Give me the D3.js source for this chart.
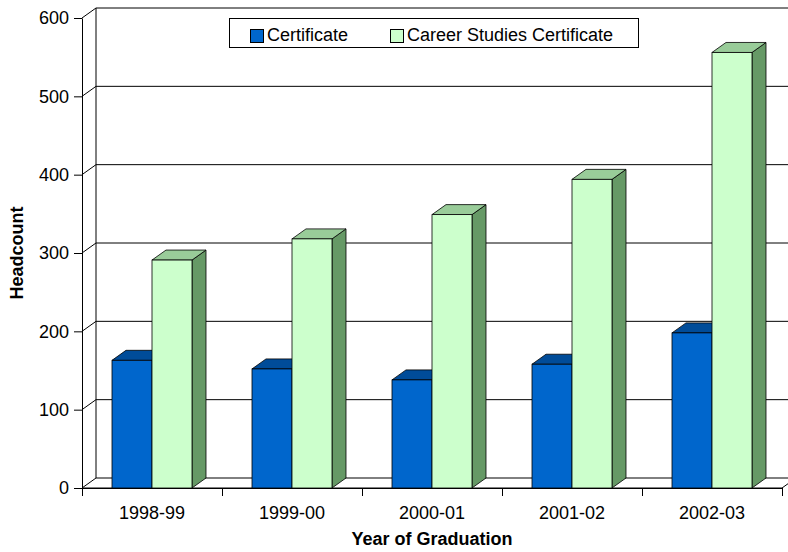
<!DOCTYPE html>
<html>
<head>
<meta charset="utf-8">
<script src="https://cdn.jsdelivr.net/npm/d3@7"></script>
<style>
    body { margin: 0; background: #fff; }
    svg text { font-family: "Liberation Sans", Arial, sans-serif; fill: #000; }
    .tick-label { font-size: 18px; }
    .axis-title { font-size: 18px; font-weight: bold; }
    .legend-text { font-size: 18px; }
</style>
</head>
<body>
<div id="chart"></div>
<script>
// data
let years = ['1998-99', '1999-00', '2000-01', '2001-02', '2002-03'];
let seriesNames = ['Certificate', 'Career Studies Certificate'];
let certificate = [163, 152, 138, 158, 198];
let careerStudies = [291, 318, 349, 394, 556];
let yTicks = [0, 100, 200, 300, 400, 500, 600];

class BarChart3D {

    constructor (width, height) {
        this.width = width;
        this.height = height;
        this.depthX = 14;
        this.depthY = 10;
        this.colors = {
            'Certificate': { front: '#0066cc', top: '#004c99', side: '#003366' },
            'Career Studies Certificate': { front: '#ccffcc', top: '#99cc99', side: '#669966' }
        };
    }

    draw() {
        let that = this;
        let dx = this.depthX, dy = this.depthY;

        let svg = d3.select('#chart')
                    .append('svg')
                    .attr('width', this.width)
                    .attr('height', this.height);

        let x = d3.scaleBand().domain(years).range([82, 782]);
        let xs = d3.scaleBand().domain(seriesNames).range([0, x.bandwidth()]).paddingOuter(0.75);
        let y = d3.scaleLinear().domain([0, 600]).range([488, 18]);

        // back wall gridlines
        svg.append('g')
            .selectAll('line')
            .data(yTicks.filter(d => d > 0))
            .join('line')
            .attr('x1', 82 + dx)
            .attr('x2', 782 + dx)
            .attr('y1', d => y(d) - dy)
            .attr('y2', d => y(d) - dy)
            .attr('stroke', '#000');

        // back wall left edge
        svg.append('line')
            .attr('x1', 82 + dx).attr('x2', 82 + dx)
            .attr('y1', y(600) - dy).attr('y2', y(0) - dy)
            .attr('stroke', '#000');

        // left wall diagonals
        svg.append('g')
            .selectAll('line')
            .data(yTicks.filter(d => d > 0))
            .join('line')
            .attr('x1', 82)
            .attr('x2', 82 + dx)
            .attr('y1', d => y(d))
            .attr('y2', d => y(d) - dy)
            .attr('stroke', '#000');

        // floor
        svg.append('path')
            .attr('d', `M82,${y(0)}L782,${y(0)}L${782 + dx},${y(0) - dy}L${82 + dx},${y(0) - dy}Z`)
            .attr('fill', '#fff')
            .attr('stroke', '#000');

        // bars
        let seriesData = [
            { name: seriesNames[0], values: certificate },
            { name: seriesNames[1], values: careerStudies }
        ];
        let bars = [];
        years.forEach(function(yr, i) {
            seriesData.forEach(function(s) {
                bars.push({ year: yr, name: s.name, value: s.values[i] });
            });
        });

        let barG = svg.append('g')
                    .selectAll('g')
                    .data(bars)
                    .join('g');

        barG.each(function(d) {
            let g = d3.select(this);
            let x0 = x(d.year) + xs(d.name);
            let x1 = x0 + xs.bandwidth();
            let yt = y(d.value);
            let yb = y(0);
            let c = that.colors[d.name];

            g.append('path')
                .attr('d', `M${x1},${yb}L${x1 + dx},${yb - dy}L${x1 + dx},${yt - dy}L${x1},${yt}Z`)
                .attr('fill', c.side)
                .attr('stroke', '#000')
                .attr('stroke-width', 0.8);
            g.append('path')
                .attr('d', `M${x0},${yt}L${x0 + dx},${yt - dy}L${x1 + dx},${yt - dy}L${x1},${yt}Z`)
                .attr('fill', c.top)
                .attr('stroke', '#000')
                .attr('stroke-width', 0.8);
            g.append('rect')
                .attr('x', x0)
                .attr('y', yt)
                .attr('width', x1 - x0)
                .attr('height', yb - yt)
                .attr('fill', c.front)
                .attr('stroke', '#000')
                .attr('stroke-width', 0.8);
        });

        // y axis
        let yAxis = svg.append('g')
                    .attr('transform', 'translate(82,0)')
                    .call(d3.axisLeft(y).tickValues(yTicks).tickSize(8).tickPadding(5).tickSizeOuter(0));
        yAxis.select('.domain').attr('stroke', '#000');
        yAxis.selectAll('text').classed('tick-label', true).attr('font-size', null).attr('font-family', null);

        // x axis
        let xTickPos = d3.range(years.length + 1).map(i => 82 + i * x.step());
        let xAxisScale = d3.scaleLinear().domain([0, years.length]).range([82, 782]);
        let xAxis = svg.append('g')
                    .attr('transform', `translate(0,${y(0)})`)
                    .call(d3.axisBottom(xAxisScale).ticks(years.length).tickSize(8).tickFormat(''));
        xAxis.select('.domain').attr('stroke', '#000');

        svg.append('g')
            .selectAll('text')
            .data(years)
            .join('text')
            .classed('tick-label', true)
            .attr('x', d => x(d) + x.bandwidth() / 2)
            .attr('y', 519)
            .attr('text-anchor', 'middle')
            .text(d => d);

        // axis titles
        svg.append('text')
            .classed('axis-title', true)
            .attr('transform', 'translate(23,253) rotate(-90)')
            .attr('text-anchor', 'middle')
            .text('Headcount');

        svg.append('text')
            .classed('axis-title', true)
            .attr('x', 432)
            .attr('y', 545)
            .attr('text-anchor', 'middle')
            .text('Year of Graduation');

        this.drawLegend(svg);
    }

    drawLegend(svg) {
        let that = this;
        let legend = svg.append('g');

        legend.append('rect')
            .attr('x', 229.5)
            .attr('y', 18.5)
            .attr('width', 409)
            .attr('height', 29)
            .attr('fill', '#fff')
            .attr('stroke', '#000');

        let offsets = [250, 390];
        let items = legend.selectAll('g.item')
                    .data(seriesNames)
                    .join('g')
                    .classed('item', true)
                    .attr('transform', (d, i) => `translate(${offsets[i]},0)`);

        items.append('rect')
            .attr('x', 0.5)
            .attr('y', 29.5)
            .attr('width', 13)
            .attr('height', 13)
            .attr('fill', d => that.colors[d].front)
            .attr('stroke', '#000');

        items.append('text')
            .classed('legend-text', true)
            .attr('x', 17)
            .attr('y', 41)
            .text(d => d);
    }
}

let chart = new BarChart3D(788, 552);
chart.draw();
</script>
</body>
</html>
